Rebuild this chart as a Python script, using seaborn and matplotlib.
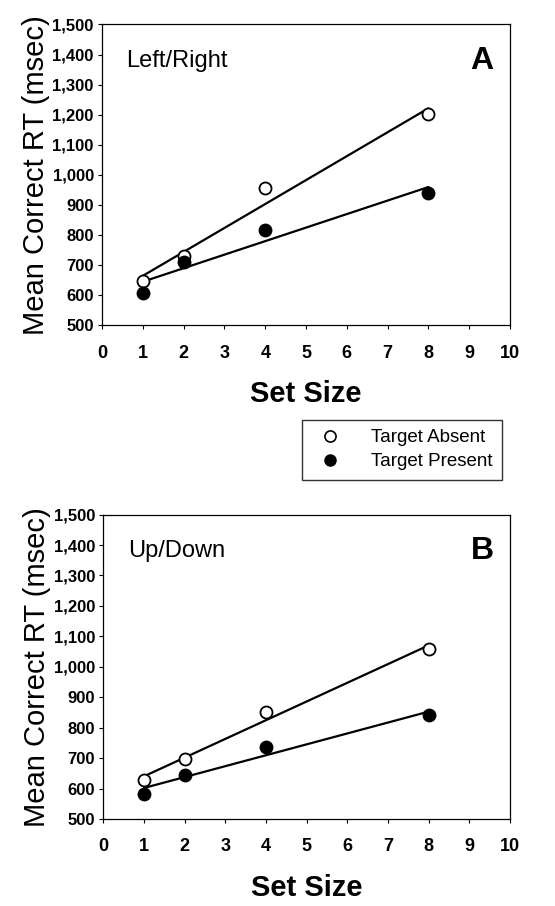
import numpy as np
import pandas as pd
import matplotlib
matplotlib.use('Agg')
import matplotlib.pyplot as plt
from matplotlib.ticker import FuncFormatter, MultipleLocator
from matplotlib.lines import Line2D
import seaborn as sns

sns.set_theme(style="ticks")
plt.rcParams['font.family'] = ['Liberation Sans', 'DejaVu Sans']
plt.rcParams['text.color'] = 'black'
plt.rcParams['axes.labelcolor'] = 'black'
plt.rcParams['xtick.color'] = 'black'
plt.rcParams['ytick.color'] = 'black'

# data
set_size = [1, 2, 4, 8]
lr_absent = [646, 731, 955, 1201]
lr_present = [606, 711, 816, 941]
ud_absent = [628, 697, 853, 1059]
ud_present = [582, 644, 735, 841]

panels = [
    ('Left/Right', 'A', lr_absent, lr_present),
    ('Up/Down', 'B', ud_absent, ud_present),
]

fig = plt.figure(figsize=(5.55, 9.06), dpi=100)
ax_a = fig.add_axes([0.184, 0.641, 0.735, 0.332])
ax_b = fig.add_axes([0.186, 0.096, 0.733, 0.336])

for ax, (cond, letter, absent, present) in zip([ax_a, ax_b], panels):
    df = pd.DataFrame({'set_size': set_size * 2,
                       'rt': absent + present,
                       'target': ['Absent'] * 4 + ['Present'] * 4})
    for tgt, fc in [('Absent', 'white'), ('Present', 'black')]:
        sub = df[df['target'] == tgt]
        sns.regplot(data=sub, x='set_size', y='rt', ax=ax, ci=None, scatter=False,
                    truncate=True, line_kws={'color': 'black', 'lw': 1.6, 'zorder': 2})
        sns.scatterplot(data=sub, x='set_size', y='rt', ax=ax, s=75, color=fc,
                        edgecolor='black', linewidth=1.3, zorder=3, legend=False)

    ax.set_xlim(0, 10)
    ax.set_ylim(500, 1500)
    ax.xaxis.set_major_locator(MultipleLocator(1))
    ax.yaxis.set_major_locator(MultipleLocator(100))
    ax.yaxis.set_major_formatter(FuncFormatter(lambda v, p: f'{v:,.0f}'))
    ax.tick_params(direction='out', length=3, width=0.8)
    ax.tick_params(axis='x', labelsize=13, pad=11)
    ax.tick_params(axis='y', labelsize=12, pad=3)
    for lbl in ax.get_xticklabels() + ax.get_yticklabels():
        lbl.set_fontweight('bold')
    for sp in ax.spines.values():
        sp.set_visible(True)
        sp.set_linewidth(0.9)
        sp.set_color('black')

    ax.set_xlabel('Set Size', fontsize=21, fontweight='bold', labelpad=13)
    ax.set_ylabel('Mean Correct RT (msec)', fontsize=21, labelpad=2)
    ax.text(0.06, 0.88, cond, transform=ax.transAxes, fontsize=17, va='center')
    ax.text(0.96, 0.88, letter, transform=ax.transAxes, fontsize=23,
            fontweight='bold', ha='right', va='center')

handles = [
    Line2D([], [], ls='none', marker='o', markersize=8, markerfacecolor='white',
           markeredgecolor='black', markeredgewidth=1.2, label='Target Absent'),
    Line2D([], [], ls='none', marker='o', markersize=8, markerfacecolor='black',
           markeredgecolor='black', label='Target Present'),
]
leg = fig.legend(handles=handles, loc='upper left', bbox_to_anchor=(302 / 555, 1 - 420 / 906),
                 frameon=True, fancybox=False, edgecolor='black', fontsize=13.5,
                 handletextpad=1.2, borderpad=0.5, labelspacing=0.35, borderaxespad=0)
leg.get_frame().set_linewidth(1.0)

plt.savefig('out.png', dpi=100)
plt.close()
